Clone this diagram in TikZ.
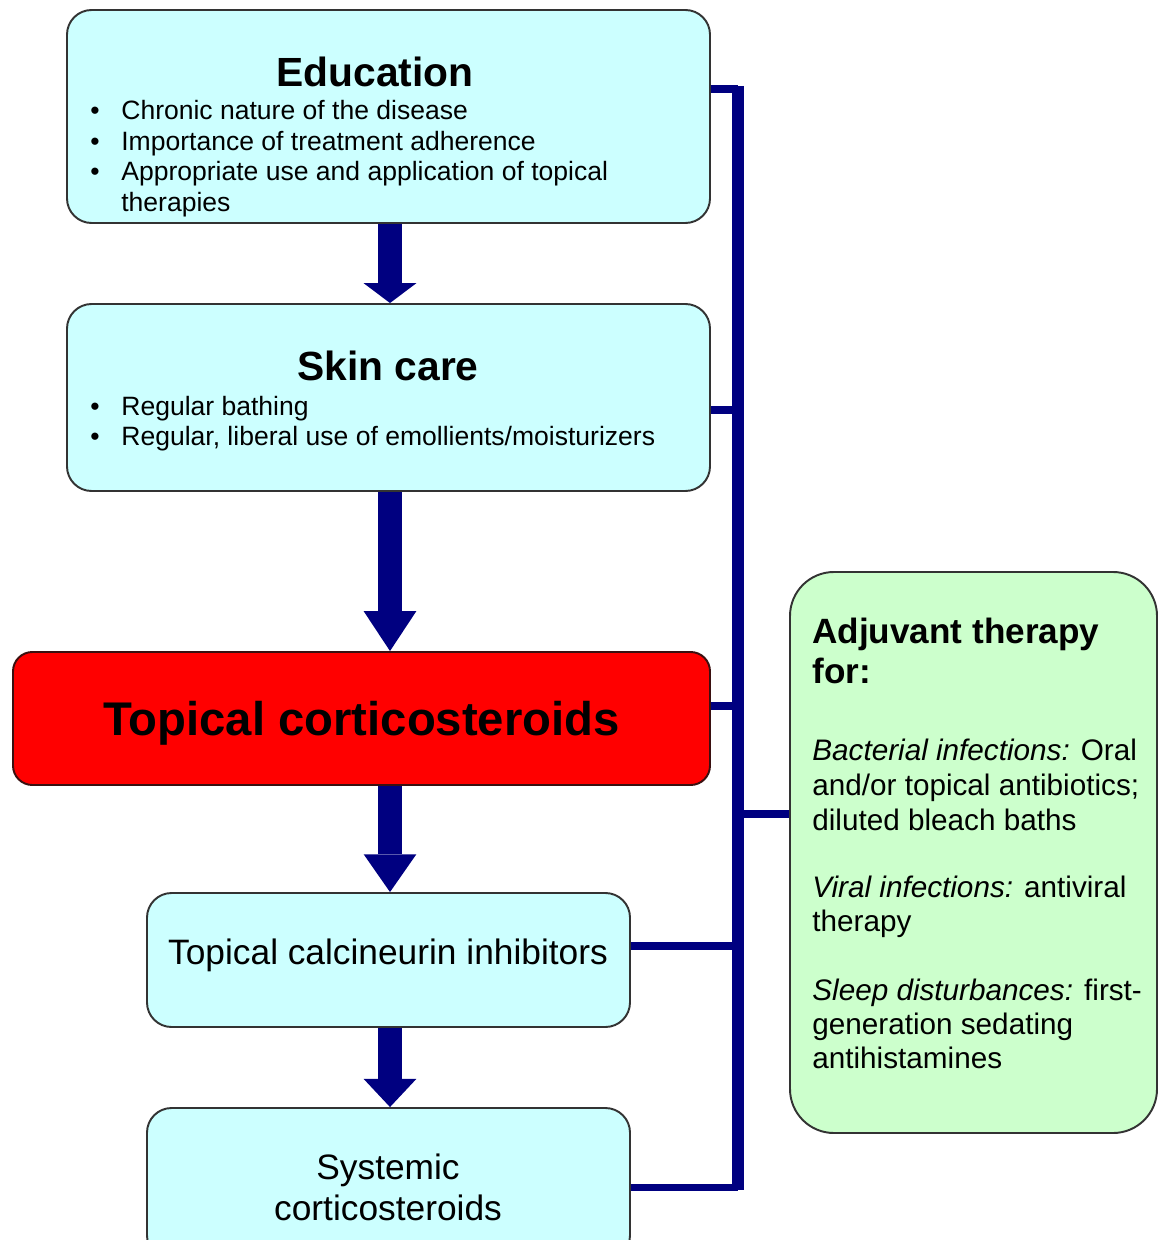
\documentclass[tikz,border=0pt]{standalone}
\usepackage{fontspec}
\setmainfont{Liberation Sans}
\usetikzlibrary{arrows.meta,fit,calc}
\definecolor{boxcyan}{HTML}{CCFFFF}
\definecolor{boxgreen}{HTML}{CCFFCC}
\definecolor{navyline}{HTML}{000080}
\definecolor{edgegray}{HTML}{333333}
\definecolor{rededge}{HTML}{3A1010}
\definecolor{redfill}{HTML}{FF0000}
\begin{document}
\begin{tikzpicture}[x=0.02cm,y=-0.02cm,
  cbox/.style={draw=edgegray, line width=1.1pt, fill=boxcyan, rounded corners=14pt, inner sep=0pt},
  rbox/.style={draw=rededge, line width=1.1pt, fill=redfill, rounded corners=11pt, inner sep=0pt},
  gbox/.style={draw=edgegray, line width=1.1pt, fill=boxgreen, rounded corners=25pt, inner sep=0pt},
  txt/.style={inner sep=0pt, anchor=base west},
  ctxt/.style={inner sep=0pt, anchor=base},
  headf/.style={font=\fontsize{23.2}{27}\selectfont\bfseries},
  bodyf/.style={font=\fontsize{15.1}{17.4}\selectfont},
  midf/.style={font=\fontsize{20.1}{24}\selectfont},
  adjf/.style={font=\fontsize{16.9}{20}\selectfont},
  bigarrow/.style={draw=navyline, line width=14.2pt},
  stub/.style={draw=navyline, line width=4pt},
  vline/.style={draw=navyline, line width=6.8pt}]
\useasboundingbox (0,0) rectangle (1159,1240);
\clip (0,0) rectangle (1159,1240);

% boxes
\node[cbox, fit={(67,10)(710,223)}] (edu) {};
\node[cbox, fit={(67,304)(710,491)}] (skin) {};
\node[rbox, fit={(13,652)(710,785)}] (tcs) {};
\node[cbox, fit={(147,893)(630,1027)}] (tci) {};
\node[cbox, fit={(147,1108)(630,1260)}] (scs) {};
\node[gbox, fit={(790,572)(1157,1133)}] (adj) {};

% Education text
\node[ctxt, headf] (eduh) at (375,87) {Education};
\node[ctxt, bodyf] (eb1) at (95,119.5) {\textbullet};
\node[ctxt, bodyf] (eb2) at (95,150.2) {\textbullet};
\node[ctxt, bodyf] (eb3) at (95,180.9) {\textbullet};
\node[txt, bodyf] (et1) at (121,119.5) {Chronic nature of the disease};
\node[txt, bodyf] (et2) at (121,150.2) {Importance of treatment adherence};
\node[txt, bodyf] (et3) at (121,180.9) {Appropriate use and application of topical};
\node[txt, bodyf] (et4) at (121,211.6) {therapies};

% Skin care text
\node[ctxt, headf] (skinh) at (388,380.7) {Skin care};
\node[ctxt, bodyf] (sb1) at (95,415.5) {\textbullet};
\node[ctxt, bodyf] (sb2) at (95,445.5) {\textbullet};
\node[txt, bodyf] (st1) at (121,415.5) {Regular bathing};
\node[txt, bodyf] (st2) at (121,445.5) {Regular, liberal use of emollients/moisturizers};

% Topical corticosteroids
\node[ctxt, font=\fontsize{26.9}{31}\selectfont\bfseries] (tcst) at (361.5,735) {Topical corticosteroids};

% Calcineurin / systemic
\node[ctxt, midf] (tcit) at (388,964.7) {Topical calcineurin inhibitors};
\node[ctxt, midf] (scs1) at (388,1179.7) {Systemic};
\node[ctxt, midf] (scs2) at (388,1220.7) {corticosteroids};

% Adjuvant text
\node[txt, font=\fontsize{20}{24}\selectfont\bfseries] (ah1) at (812,643.7) {Adjuvant therapy};
\node[txt, font=\fontsize{20}{24}\selectfont\bfseries] (ah2) at (812,683.7) {for:};
\node[txt, adjf] (a1) at (812,760.7) {{\itshape Bacterial infections:} Oral};
\node[txt, adjf] (a2) at (812,795.7) {and/or topical antibiotics;};
\node[txt, adjf] (a3) at (812,830.7) {diluted bleach baths};
\node[txt, adjf] (a4) at (812,897.7) {{\itshape Viral infections:} antiviral};
\node[txt, adjf] (a5) at (812,931.7) {therapy};
\node[txt, adjf] (a6) at (812,1000.7) {{\itshape Sleep disturbances:} first-};
\node[txt, adjf] (a7) at (812,1034.7) {generation sedating};
\node[txt, adjf] (a8) at (812,1068.7) {antihistamines};

% big arrows
\coordinate (ax) at (390,0);
\draw[bigarrow, -{Triangle[width=30pt,length=11.3pt,line width=0pt]}] (edu.south -| ax) -- (skin.north -| ax);
\draw[bigarrow, -{Triangle[width=30pt,length=22.7pt,line width=0pt]}] (skin.south -| ax) -- (tcs.north -| ax);
\draw[bigarrow, -{Triangle[width=30pt,length=21.5pt,line width=0pt]}] (tcs.south -| ax) -- (tci.north -| ax);
\draw[bigarrow, -{Triangle[width=30pt,length=16pt,line width=0pt]}] (tci.south -| ax) -- (scs.north -| ax);

% bracket
\coordinate (b1) at (738,89);
\coordinate (b2) at (738,410);
\coordinate (b3) at (738,706);
\coordinate (b4) at (738,946);
\coordinate (b5) at (738,1187);
\coordinate (b6) at (738,814);
\coordinate (b0) at (738,86);
\coordinate (b7) at (738,1190);
\draw[vline] (b0) -- (b7);
\draw[stub] (edu.east |- b1) -- (b1);
\draw[stub] (skin.east |- b2) -- (b2);
\draw[stub] (tcs.east |- b3) -- (b3);
\draw[stub] (tci.east |- b4) -- (b4);
\draw[stub] (scs.east |- b5) -- (b5);
\draw[stub] (b6) -- (adj.west |- b6);
\end{tikzpicture}
\end{document}
